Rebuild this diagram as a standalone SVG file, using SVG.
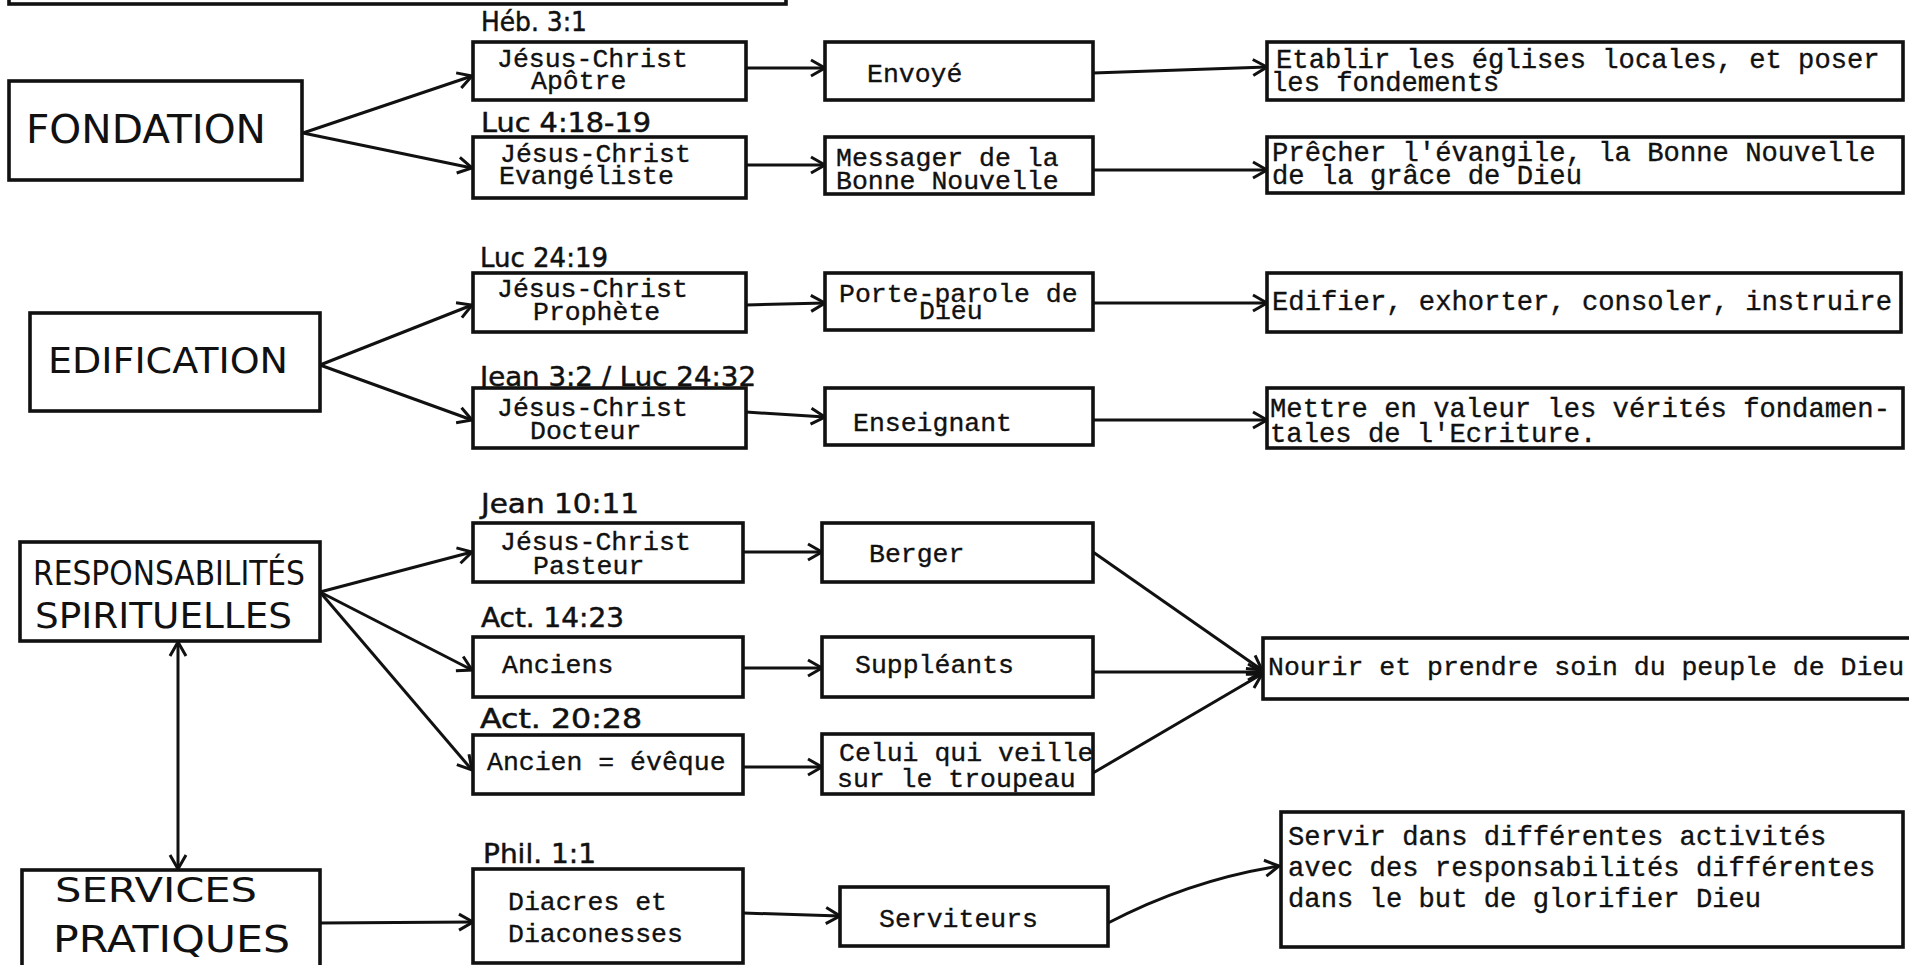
<svg xmlns="http://www.w3.org/2000/svg" width="1909" height="965" viewBox="0 0 1909 965">
<defs>
<style>
.bx{fill:#fff;stroke:#111;stroke-width:3.6}
.tw{font-family:"Liberation Mono","Courier New",monospace;font-size:26.5px;fill:#111;stroke:#111;stroke-width:0.35}
.tw2{font-family:"Liberation Mono","Courier New",monospace;font-size:27.2px;fill:#111;stroke:#111;stroke-width:0.35}
.hw{font-family:"DejaVu Sans","Liberation Sans",sans-serif;fill:#111}
.ref{font-size:27px;stroke:#111;stroke-width:0.5}
.cn{stroke:#111;stroke-width:3;fill:none;marker-end:url(#ah)}
</style>
<marker id="ah" markerUnits="userSpaceOnUse" markerWidth="20" markerHeight="20" viewBox="-16 -10 20 20" refX="0" refY="0" orient="auto-start-reverse">
<path d="M-14,-8 L0,0 L-14,8" fill="none" stroke="#111" stroke-width="3" stroke-linejoin="miter"/>
</marker>
</defs>
<rect x="0" y="0" width="1909" height="965" fill="#fff"/>

<g id="top-box"><rect class="bx" x="9" y="-20" width="777" height="24"/></g>

<g id="connectors">
<path class="cn" d="M303,133 L472,76"/>
<path class="cn" d="M303,133 L472,168"/>
<path class="cn" d="M746,68 L825,68"/>
<path class="cn" d="M1093,73 L1267,67"/>
<path class="cn" d="M746,165 L825,165"/>
<path class="cn" d="M1093,170 L1267,170"/>
<path class="cn" d="M320,365 L472,305"/>
<path class="cn" d="M320,365 L472,420"/>
<path class="cn" d="M746,305 L825,303"/>
<path class="cn" d="M1093,303 L1267,303"/>
<path class="cn" d="M746,412 L825,417"/>
<path class="cn" d="M1093,420 L1267,420"/>
<path class="cn" d="M320,592 L472,552"/>
<path class="cn" d="M320,592 L472,670"/>
<path class="cn" d="M320,592 L472,770"/>
<path class="cn" d="M743,552 L822,552"/>
<path class="cn" d="M743,668 L822,668"/>
<path class="cn" d="M743,767 L822,767"/>
<path class="cn" d="M1093,552 L1262,670"/>
<path class="cn" d="M1093,672 L1262,672"/>
<path class="cn" d="M1093,773 L1262,674"/>
<path class="cn" d="M178,869 L178,642" style="marker-start:url(#ah)"/>
<path class="cn" d="M320,923 L473,922"/>
<path class="cn" d="M743,913 L840,916"/>
<path class="cn" d="M1108,923 Q1190,880 1279,866"/>
</g>

<g id="n-fondation"><rect class="bx" x="9" y="81" width="293" height="99"/><text class="hw" x="26" y="143" font-size="39" textLength="240" lengthAdjust="spacingAndGlyphs">FONDATION</text></g>
<g id="n-edification"><rect class="bx" x="30" y="313" width="290" height="98"/><text class="hw" x="48" y="373" font-size="35" textLength="240" lengthAdjust="spacingAndGlyphs">EDIFICATION</text></g>
<g id="n-resp"><rect class="bx" x="20" y="542" width="300" height="99"/><text class="hw" x="33" y="585" font-size="33" textLength="272" lengthAdjust="spacingAndGlyphs">RESPONSABILITÉS</text><text class="hw" x="35" y="628" font-size="35" textLength="257" lengthAdjust="spacingAndGlyphs">SPIRITUELLES</text></g>
<g id="n-services"><rect class="bx" x="22" y="870" width="298" height="120"/><text class="hw" x="55" y="902" font-size="33" textLength="202" lengthAdjust="spacingAndGlyphs">SERVICES</text><text class="hw" x="53" y="952" font-size="37" textLength="237" lengthAdjust="spacingAndGlyphs">PRATIQUES</text></g>

<g id="refs" class="hw ref">
<text x="481" y="31" textLength="106" lengthAdjust="spacingAndGlyphs">Héb. 3:1</text>
<text x="481" y="132" textLength="170" lengthAdjust="spacingAndGlyphs">Luc 4:18-19</text>
<text x="480" y="267" textLength="128" lengthAdjust="spacingAndGlyphs">Luc 24:19</text>
<text x="480" y="386" textLength="276" lengthAdjust="spacingAndGlyphs">Jean 3:2 / Luc 24:32</text>
<text x="481" y="513" textLength="158" lengthAdjust="spacingAndGlyphs">Jean 10:11</text>
<text x="481" y="627" textLength="143" lengthAdjust="spacingAndGlyphs">Act. 14:23</text>
<text x="480" y="728" textLength="162" lengthAdjust="spacingAndGlyphs">Act. 20:28</text>
<text x="483" y="863" textLength="113" lengthAdjust="spacingAndGlyphs">Phil. 1:1</text>
</g>

<g id="n-apotre"><rect class="bx" x="473" y="42" width="273" height="58"/><text class="tw" x="497" y="67">Jésus-Christ</text><text class="tw" x="531" y="89">Apôtre</text></g>
<g id="n-envoye"><rect class="bx" x="825" y="42" width="268" height="58"/><text class="tw" x="867" y="82">Envoyé</text></g>
<g id="n-etablir"><rect class="bx" x="1267" y="42" width="636" height="58"/><text class="tw2" x="1276" y="68">Etablir les églises locales, et poser</text><text class="tw2" x="1271" y="91">les fondements</text></g>

<g id="n-evangeliste"><rect class="bx" x="473" y="137" width="273" height="61"/><text class="tw" x="500" y="162">Jésus-Christ</text><text class="tw" x="499" y="184">Evangéliste</text></g>
<g id="n-messager"><rect class="bx" x="825" y="137" width="268" height="57"/><text class="tw" x="836" y="166">Messager de la</text><text class="tw" x="836" y="189">Bonne Nouvelle</text></g>
<g id="n-precher"><rect class="bx" x="1267" y="137" width="636" height="56"/><text class="tw2" x="1272" y="161">Prêcher l'évangile, la Bonne Nouvelle</text><text class="tw2" x="1272" y="184">de la grâce de Dieu</text></g>

<g id="n-prophete"><rect class="bx" x="473" y="273" width="273" height="59"/><text class="tw" x="497" y="297">Jésus-Christ</text><text class="tw" x="533" y="320">Prophète</text></g>
<g id="n-porte"><rect class="bx" x="825" y="273" width="268" height="57"/><text class="tw" x="839" y="302">Porte-parole de</text><text class="tw" x="919" y="319">Dieu</text></g>
<g id="n-edifier"><rect class="bx" x="1267" y="273" width="634" height="59"/><text class="tw2" x="1272" y="310">Edifier, exhorter, consoler, instruire</text></g>

<g id="n-docteur"><rect class="bx" x="473" y="388" width="273" height="60"/><text class="tw" x="497" y="416">Jésus-Christ</text><text class="tw" x="530" y="439">Docteur</text></g>
<g id="n-enseignant"><rect class="bx" x="825" y="388" width="268" height="57"/><text class="tw" x="853" y="431">Enseignant</text></g>
<g id="n-mettre"><rect class="bx" x="1267" y="388" width="636" height="60"/><text class="tw2" x="1270" y="417">Mettre en valeur les vérités fondamen-</text><text class="tw2" x="1270" y="442">tales de l'Ecriture.</text></g>

<g id="n-pasteur"><rect class="bx" x="473" y="523" width="270" height="59"/><text class="tw" x="500" y="550">Jésus-Christ</text><text class="tw" x="533" y="574">Pasteur</text></g>
<g id="n-berger"><rect class="bx" x="822" y="523" width="271" height="59"/><text class="tw" x="869" y="562">Berger</text></g>
<g id="n-anciens"><rect class="bx" x="473" y="637" width="270" height="60"/><text class="tw" x="502" y="673">Anciens</text></g>
<g id="n-suppleants"><rect class="bx" x="822" y="637" width="271" height="60"/><text class="tw" x="855" y="673">Suppléants</text></g>
<g id="n-nourir"><rect class="bx" x="1263" y="638" width="660" height="61"/><text class="tw" x="1268" y="675">Nourir et prendre soin du peuple de Dieu</text></g>
<g id="n-eveque"><rect class="bx" x="473" y="735" width="270" height="59"/><text class="tw" x="487" y="770">Ancien = évêque</text></g>
<g id="n-celui"><rect class="bx" x="822" y="734" width="271" height="60"/><text class="tw" x="839" y="761">Celui qui veille</text><text class="tw" x="837" y="787">sur le troupeau</text></g>

<g id="n-diacres"><rect class="bx" x="473" y="869" width="270" height="94"/><text class="tw" x="508" y="910">Diacres et</text><text class="tw" x="508" y="942">Diaconesses</text></g>
<g id="n-serviteurs"><rect class="bx" x="840" y="887" width="268" height="59"/><text class="tw" x="879" y="927">Serviteurs</text></g>
<g id="n-servir"><rect class="bx" x="1281" y="812" width="622" height="135"/><text class="tw2" x="1288" y="845">Servir dans différentes activités</text><text class="tw2" x="1288" y="876">avec des responsabilités différentes</text><text class="tw2" x="1288" y="907">dans le but de glorifier Dieu</text></g>
</svg>
